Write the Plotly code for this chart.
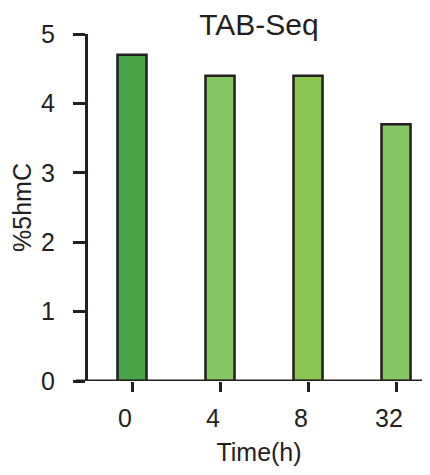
import plotly.graph_objects as go

categories = ["0", "4", "8", "32"]
values = [4.7, 4.4, 4.4, 3.7]
bar_colors = ["#49A547", "#86C663", "#8BC652", "#86C663"]
y_ticks = [0, 1, 2, 3, 4, 5]

ink = "#231F20"
font = "Liberation Sans, Arial, sans-serif"

fig = go.Figure()
fig.add_trace(go.Bar(
    x=categories, y=values,
    marker=dict(color=bar_colors, line=dict(color=ink, width=2.5)),
    width=0.33,
))

# page has an 8px body margin, so the figure is sized to fit inside the window
W, H = 422, 467
ml, mr, mt, mb = 80, 0, 26, 94
fig.update_layout(
    width=W, height=H,
    margin=dict(l=ml, r=mr, t=mt, b=mb, autoexpand=False),
    paper_bgcolor="white", plot_bgcolor="white",
    showlegend=False,
    font=dict(family=font, color=ink, size=25),
    title=dict(text="TAB-Seq", x=0.5, xref="paper", xanchor="center",
               y=1 - 16.5 / H, yanchor="middle", yref="container",
               font=dict(size=30, family=font, color=ink), automargin=False),
    xaxis=dict(
        type="category", range=[-0.5, 3.386], automargin=False,
        showline=False, ticks="outside", ticklen=10, tickwidth=3, tickcolor=ink,
        tickfont=dict(size=25), showgrid=False, zeroline=False,
        ticklabelstandoff=5, ticklabelshift=-7,
        title=dict(text="Time(h)", font=dict(size=25), standoff=12),
    ),
    yaxis=dict(
        range=[0, 5], tickvals=y_ticks, showline=True, linewidth=3, linecolor=ink,
        automargin=False,
        ticks="outside", ticklen=12, tickwidth=3, tickcolor=ink,
        tickfont=dict(size=25), showgrid=False, zeroline=False,
        ticklabelstandoff=13,
        title=dict(text="%5hmC", font=dict(size=25), standoff=4),
    ),
)
# x axis baseline extending left to the y tick length
fig.add_shape(type="line", xref="paper", yref="y",
              x0=-12 / (W - ml - mr), x1=1, y0=0, y1=0,
              line=dict(color=ink, width=3), layer="above")

fig.write_html("out.html")
